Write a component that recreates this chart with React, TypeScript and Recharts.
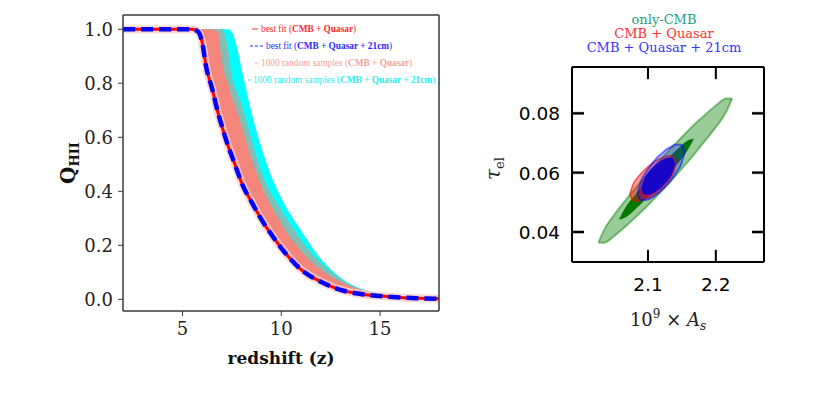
import React from 'react';
import { ComposedChart, Area, Line, XAxis, YAxis, Label } from 'recharts';

// ---------------- Left panel: ionization history ----------------
const redshift = [2, 3, 4, 5, 5.5, 5.8, 6.0, 6.2, 6.5, 6.8, 7.0, 7.3, 7.5, 7.7, 8.0, 8.5, 9.0, 9.5, 10, 11, 12, 13, 14, 15, 16, 17, 18];
const bestFitQuasar = [1, 1, 1, 1, 1, 0.99, 0.95, 0.86, 0.78, 0.69, 0.64, 0.57, 0.53, 0.49, 0.43, 0.36, 0.295, 0.24, 0.19, 0.11, 0.065, 0.035, 0.02, 0.012, 0.007, 0.004, 0.002];
const bestFit21cm = [1, 1, 1, 1, 1, 0.99, 0.95, 0.86, 0.78, 0.69, 0.64, 0.57, 0.53, 0.49, 0.43, 0.36, 0.295, 0.24, 0.19, 0.11, 0.065, 0.035, 0.02, 0.012, 0.007, 0.004, 0.002];
const samplesQuasarEdge = [1, 1, 1, 1, 1, 1, 1, 1, 1, 0.99, 0.88, 0.8, 0.75, 0.71, 0.64, 0.52, 0.42, 0.345, 0.28, 0.18, 0.11, 0.065, 0.037, 0.021, 0.012, 0.007, 0.003];
const samplesOverlapEdge = [1, 1, 1, 1, 1, 1, 1, 1, 1, 1, 1, 0.93, 0.82, 0.78, 0.72, 0.59, 0.47, 0.39, 0.33, 0.22, 0.135, 0.075, 0.035, 0.02, 0.011, 0.007, 0.0035];
const samples21cmEdge = [1, 1, 1, 1, 1, 1, 1, 1, 1, 1, 1, 1, 0.99, 0.95, 0.85, 0.69, 0.56, 0.455, 0.375, 0.255, 0.15, 0.08, 0.04, 0.022, 0.012, 0.008, 0.005];

const leftTicksX = [5, 10, 15];
const leftTicksY = [0, 0.2, 0.4, 0.6, 0.8, 1.0];

const leftData = redshift.map((z, i) => ({
  z,
  q: bestFitQuasar[i],
  q21: bestFit21cm[i],
  s: samplesQuasarEdge[i],
  t: samplesOverlapEdge[i],
  c: samples21cmEdge[i],
}));

// ---------------- Right panel: 1σ / 2σ contours (A_s, tau) ----------------
const cmbOuterAs = [2.0271, 2.0355, 2.0505, 2.0655, 2.0805, 2.0955, 2.1105, 2.1255, 2.1405, 2.1555, 2.1705, 2.1855, 2.2005, 2.2155, 2.2239];
const cmbOuterTau = [[0.0365, 0.0365], [0.0364, 0.0408], [0.0387, 0.0459], [0.0416, 0.0503], [0.0447, 0.0545], [0.048, 0.0585], [0.0515, 0.0624], [0.0552, 0.0662], [0.0589, 0.0698], [0.0628, 0.0733], [0.0669, 0.0767], [0.0711, 0.0798], [0.0755, 0.0827], [0.0806, 0.085], [0.0849, 0.0849]];
const cmbInnerAs = [2.0571, 2.0675, 2.0825, 2.0975, 2.1125, 2.1275, 2.1425, 2.1575, 2.1678];
const cmbInnerTau = [[0.0442, 0.0442], [0.045, 0.0485], [0.0479, 0.0529], [0.0512, 0.057], [0.0548, 0.0608], [0.0586, 0.0644], [0.0627, 0.0677], [0.0672, 0.0707], [0.0714, 0.0714]];
const quasarOuterAs = [2.0732, 2.0775, 2.085, 2.0925, 2.1, 2.1075, 2.115, 2.1225, 2.13, 2.1375, 2.1418];
const quasarOuterTau = [[0.0526, 0.0526], [0.0508, 0.0558], [0.0505, 0.0585], [0.051, 0.0604], [0.0518, 0.062], [0.0529, 0.0634], [0.0542, 0.0644], [0.0558, 0.0652], [0.0577, 0.0657], [0.0604, 0.0654], [0.0636, 0.0636]];
const quasarInnerAs = [2.086, 2.092, 2.1, 2.108, 2.116, 2.124, 2.132, 2.138, 2.142];
const quasarInnerTau = [[0.053, 0.053], [0.0512, 0.0566], [0.0512, 0.0594], [0.052, 0.0615], [0.0533, 0.0631], [0.055, 0.0643], [0.0572, 0.0647], [0.0598, 0.0643], [0.0625, 0.0625]];
const cm21OuterAs = [2.0847, 2.0895, 2.097, 2.1045, 2.112, 2.1195, 2.127, 2.1345, 2.142, 2.1495, 2.1543];
const cm21OuterTau = [[0.0529, 0.0529], [0.0508, 0.057], [0.0508, 0.0602], [0.0514, 0.0626], [0.0525, 0.0647], [0.0539, 0.0663], [0.0556, 0.0678], [0.0576, 0.0688], [0.0601, 0.0695], [0.0632, 0.0694], [0.0673, 0.0673]];
const cm21InnerAs = [2.09, 2.094, 2.1, 2.1075, 2.115, 2.1225, 2.13, 2.136, 2.14];
const cm21InnerTau = [[0.0546, 0.0546], [0.0527, 0.0577], [0.0526, 0.06], [0.0531, 0.0619], [0.0542, 0.0634], [0.0557, 0.0645], [0.0576, 0.065], [0.0599, 0.0649], [0.063, 0.063]];

const rightTicksX = [2.1, 2.2];
const rightTicksY = [0.04, 0.06, 0.08];
const rightDomainX: [number, number] = [1.988, 2.271];
const rightDomainY: [number, number] = [0.0299, 0.0956];

const toRows = (as: number[], tau: number[][]) => as.map((a, i) => ({ a, r: tau[i] }));

const contours = [
  { key: 'cmbOuter', data: toRows(cmbOuterAs, cmbOuterTau), fill: '#008000', fo: 0.4, stroke: '#008000', so: 0.45, sw: 2 },
  { key: 'cmbInner', data: toRows(cmbInnerAs, cmbInnerTau), fill: '#007800', fo: 1, stroke: 'none', so: 0, sw: 0 },
  { key: 'qOuter', data: toRows(quasarOuterAs, quasarOuterTau), fill: '#ff0000', fo: 0.4, stroke: '#ff0000', so: 0.6, sw: 1.5 },
  { key: 'qInner', data: toRows(quasarInnerAs, quasarInnerTau), fill: '#ff0000', fo: 0.6, stroke: 'none', so: 0, sw: 0 },
  { key: 'cOuter', data: toRows(cm21OuterAs, cm21OuterTau), fill: '#2020ff', fo: 0.3, stroke: '#0000ff', so: 0.5, sw: 2 },
  { key: 'cInner', data: toRows(cm21InnerAs, cm21InnerTau), fill: '#0000dd', fo: 0.85, stroke: 'none', so: 0, sw: 0 },
];

// inward tick marks drawn as thin filled bands from the frame at each tick value
// (length ≈ 12 px, thickness ≈ 2 px, expressed in axis units)
const TICK_LEN_A = 0.0177;
const TICK_LEN_TAU = 0.004;
const HALF_W_A = 0.0015;
const HALF_W_TAU = 0.00034;
const tickBands = [
  ...rightTicksX.map((a) => [
    { a: a - HALF_W_A, r: [rightDomainY[0], rightDomainY[0] + TICK_LEN_TAU] },
    { a: a + HALF_W_A, r: [rightDomainY[0], rightDomainY[0] + TICK_LEN_TAU] },
  ]),
  ...rightTicksX.map((a) => [
    { a: a - HALF_W_A, r: [rightDomainY[1] - TICK_LEN_TAU, rightDomainY[1]] },
    { a: a + HALF_W_A, r: [rightDomainY[1] - TICK_LEN_TAU, rightDomainY[1]] },
  ]),
  ...rightTicksY.map((m) => [
    { a: rightDomainX[0], r: [m - HALF_W_TAU, m + HALF_W_TAU] },
    { a: rightDomainX[0] + TICK_LEN_A, r: [m - HALF_W_TAU, m + HALF_W_TAU] },
  ]),
  ...rightTicksY.map((m) => [
    { a: rightDomainX[1] - TICK_LEN_A, r: [m - HALF_W_TAU, m + HALF_W_TAU] },
    { a: rightDomainX[1], r: [m - HALF_W_TAU, m + HALF_W_TAU] },
  ]),
];

const serif = '"DejaVu Serif", serif';
const sans = '"DejaVu Sans", sans-serif';

const QLabel = (props: any) => {
  const vb = props.viewBox || { x: 63, y: 15, width: 60, height: 296 };
  const cx = vb.x + 12;
  const cy = vb.y + vb.height / 2;
  return (
    <text transform={`rotate(-90 ${cx} ${cy})`} x={cx} y={cy} textAnchor="middle" fill="#111" fontFamily={serif} fontWeight="bold" fontSize={20}>
      <tspan>Q</tspan>
      <tspan fontSize={13} dy={4}>HII</tspan>
    </text>
  );
};

const TauLabel = (props: any) => {
  const vb = props.viewBox || { x: 32, y: 67, width: 60, height: 195 };
  const cx = vb.x - 12;
  const cy = vb.y + vb.height / 2 + 4;
  return (
    <text transform={`rotate(-90 ${cx} ${cy})`} x={cx} y={cy} textAnchor="middle" fill="#222" fontFamily={serif} fontSize={20}>
      <tspan fontStyle="italic">τ</tspan>
      <tspan fontSize={13} dy={4}>el</tspan>
    </text>
  );
};

const AsLabel = (props: any) => {
  const vb = props.viewBox || { x: 92, y: 262, width: 192, height: 50 };
  const cx = vb.x + vb.width / 2;
  const cy = vb.y + 64;
  return (
    <text x={cx} y={cy} textAnchor="middle" fill="#222" fontFamily={serif} fontSize={18}>
      <tspan>10</tspan>
      <tspan fontSize={12} dy={-8}>9</tspan>
      <tspan dy={8}> × </tspan>
      <tspan fontStyle="italic">A</tspan>
      <tspan fontSize={12} fontStyle="italic" dy={4}>s</tspan>
    </text>
  );
};

const BottomTickLabel = (props: any) => {
  const { x, y, payload } = props;
  return (
    <text x={x} y={y + 29} textAnchor="middle" fill="#000" fontFamily={sans} fontSize={18.5}>{Number(payload.value).toFixed(1)}</text>
  );
};
const LeftTickLabel = (props: any) => {
  const { x, y, payload } = props;
  return (
    <text x={x - 12} y={y + 7} textAnchor="end" fill="#000" fontFamily={sans} fontSize={18.5}>{Number(payload.value).toFixed(2)}</text>
  );
};

const legendRows = [
  { top: 23, left: 252, color: '#ff2a2a', text: 'best fit', tag: 'CMB + Quasar', handle: 6, dash: undefined as string | undefined, gap: 3 },
  { top: 40, left: 250, color: '#2a2aff', text: 'best fit', tag: 'CMB + Quasar + 21cm', handle: 13, dash: '3 2', gap: 3 },
  { top: 57, left: 255, color: '#f7a294', text: '1000 random samples', tag: 'CMB + Quasar', handle: 3, dash: undefined, gap: 3 },
  { top: 74, left: 248, color: '#2aeeee', text: '1000 random samples', tag: 'CMB + Quasar + 21cm', handle: 3, dash: undefined, gap: 2 },
];

const titleLines = [
  { text: 'only-CMB', color: '#1f9e7f' },
  { text: 'CMB + Quasar', color: '#ff3030' },
  { text: 'CMB + Quasar + 21cm', color: '#3535ff' },
];

export default function App() {
  const axisGray = '#3a3a3a';
  return (
    <div style={{ position: 'absolute', left: 0, top: 0, width: 830, height: 397, background: '#fff', overflow: 'hidden' }}>
      {/* Left chart */}
      <div style={{ position: 'absolute', left: 0, top: 0 }}>
        <ComposedChart width={450} height={397} data={leftData} margin={{ top: 14, right: 10, left: 63, bottom: 26 }}>
          <XAxis
            dataKey="z"
            type="number"
            domain={[1.99, 17.98]}
            ticks={leftTicksX}
            interval={0}
            allowDataOverflow
            height={60}
            tickSize={5}
            tickMargin={6}
            axisLine={{ stroke: axisGray, strokeWidth: 1.5 }}
            tickLine={{ stroke: axisGray, strokeWidth: 1 }}
            tick={{ fill: '#222', fontSize: 18, fontFamily: serif }}
          >
            <Label value="redshift (z)" position="insideBottom" offset={7} fill="#111" fontFamily={serif} fontWeight="bold" fontSize={17} />
          </XAxis>
          <XAxis xAxisId="top" orientation="top" dataKey="z" type="number" domain={[1.99, 17.98]} allowDataOverflow height={1} tick={false} tickLine={false} axisLine={{ stroke: axisGray, strokeWidth: 1.5 }} />
          <YAxis
            type="number"
            domain={[-0.0432, 1.0528]}
            ticks={leftTicksY}
            interval={0}
            allowDataOverflow
            width={60}
            tickSize={5}
            tickMargin={5}
            tickFormatter={(v: number) => v.toFixed(1)}
            axisLine={{ stroke: axisGray, strokeWidth: 1.5 }}
            tickLine={{ stroke: axisGray, strokeWidth: 1 }}
            tick={{ fill: '#222', fontSize: 18, fontFamily: serif }}
          >
            <Label content={<QLabel />} position="left" />
          </YAxis>
          <YAxis yAxisId="right" orientation="right" type="number" domain={[-0.0432, 1.0528]} allowDataOverflow width={1} tick={false} tickLine={false} axisLine={{ stroke: axisGray, strokeWidth: 1.5 }} />

          <Area type="monotone" dataKey={(d: any) => [d.q, d.c]} fill="#00ffff" fillOpacity={1} stroke="none" isAnimationActive={false} />
          <Area type="monotone" dataKey={(d: any) => [d.q, d.t]} fill="#7fbfb6" fillOpacity={1} stroke="none" isAnimationActive={false} />
          <Area type="monotone" dataKey={(d: any) => [d.q, d.s]} fill="#f3857a" fillOpacity={1} stroke="none" isAnimationActive={false} />
          <Line type="monotone" dataKey="q" stroke="#f9cdc6" strokeWidth={8} strokeOpacity={0.8} dot={false} isAnimationActive={false} />
          <Line type="monotone" dataKey="q" stroke="#ff0000" strokeWidth={3} dot={false} isAnimationActive={false} />
          <Line type="monotone" dataKey="q21" stroke="#0000ff" strokeWidth={4.5} strokeDasharray="12 6" dot={false} isAnimationActive={false} />
        </ComposedChart>
      </div>

      {legendRows.map((r, i) => (
        <div key={i} style={{ position: 'absolute', top: r.top, left: r.left, height: 12, display: 'flex', alignItems: 'center', whiteSpace: 'nowrap', fontFamily: '"Liberation Serif", serif', fontSize: 9.3, color: r.color, lineHeight: '12px' }}>
          <svg width={r.handle} height={4} style={{ display: 'block' }}>
            <line x1={0} y1={2} x2={r.handle} y2={2} stroke={r.color} strokeWidth={1} strokeDasharray={r.dash} />
          </svg>
          <span style={{ marginLeft: r.gap }}>
            {r.text} (<b>{r.tag}</b>)
          </span>
        </div>
      ))}

      {/* Right chart */}
      <div style={{ position: 'absolute', left: 480, top: 0 }}>
        <ComposedChart width={350} height={397} margin={{ top: 66, right: 65, left: 32, bottom: 85 }}>
          <XAxis
            dataKey="a"
            type="number"
            domain={rightDomainX}
            ticks={rightTicksX}
            interval={0}
            allowDataOverflow
            height={50}
            tickSize={0}
            tickMargin={0}
            tickLine={false}
            axisLine={{ stroke: '#000', strokeWidth: 2 }}
            tick={<BottomTickLabel />}
          >
            <Label content={<AsLabel />} />
          </XAxis>
          <XAxis xAxisId="top" orientation="top" dataKey="a" type="number" domain={rightDomainX} allowDataOverflow height={1} tick={false} tickLine={false} axisLine={{ stroke: '#000', strokeWidth: 2 }} />
          <YAxis
            type="number"
            domain={rightDomainY}
            ticks={rightTicksY}
            interval={0}
            allowDataOverflow
            width={60}
            tickSize={0}
            tickMargin={0}
            tickLine={false}
            axisLine={{ stroke: '#000', strokeWidth: 2 }}
            tick={<LeftTickLabel />}
          >
            <Label content={<TauLabel />} />
          </YAxis>
          <YAxis yAxisId="right" orientation="right" type="number" domain={rightDomainY} allowDataOverflow width={1} tick={false} tickLine={false} axisLine={{ stroke: '#000', strokeWidth: 2 }} />

          {contours.map((c) => (
            <Area
              key={c.key}
              data={c.data}
              dataKey="r"
              type="monotone"
              fill={c.fill}
              fillOpacity={c.fo}
              stroke={c.stroke}
              strokeOpacity={c.so}
              strokeWidth={c.sw}
              isAnimationActive={false}
              dot={false}
              activeDot={false}
            />
          ))}
          {tickBands.map((band, i) => (
            <Area
              key={`tick${i}`}
              data={band}
              dataKey="r"
              type="linear"
              fill="#000"
              fillOpacity={1}
              stroke="#000"
              strokeWidth={0.5}
              isAnimationActive={false}
              dot={false}
              activeDot={false}
            />
          ))}
        </ComposedChart>
      </div>

      <div style={{ position: 'absolute', left: 564, top: 13, width: 200, textAlign: 'center', fontFamily: serif, fontSize: 13, lineHeight: '14px' }}>
        {titleLines.map((t, i) => (
          <div key={i} style={{ color: t.color }}>{t.text}</div>
        ))}
      </div>
    </div>
  );
}
